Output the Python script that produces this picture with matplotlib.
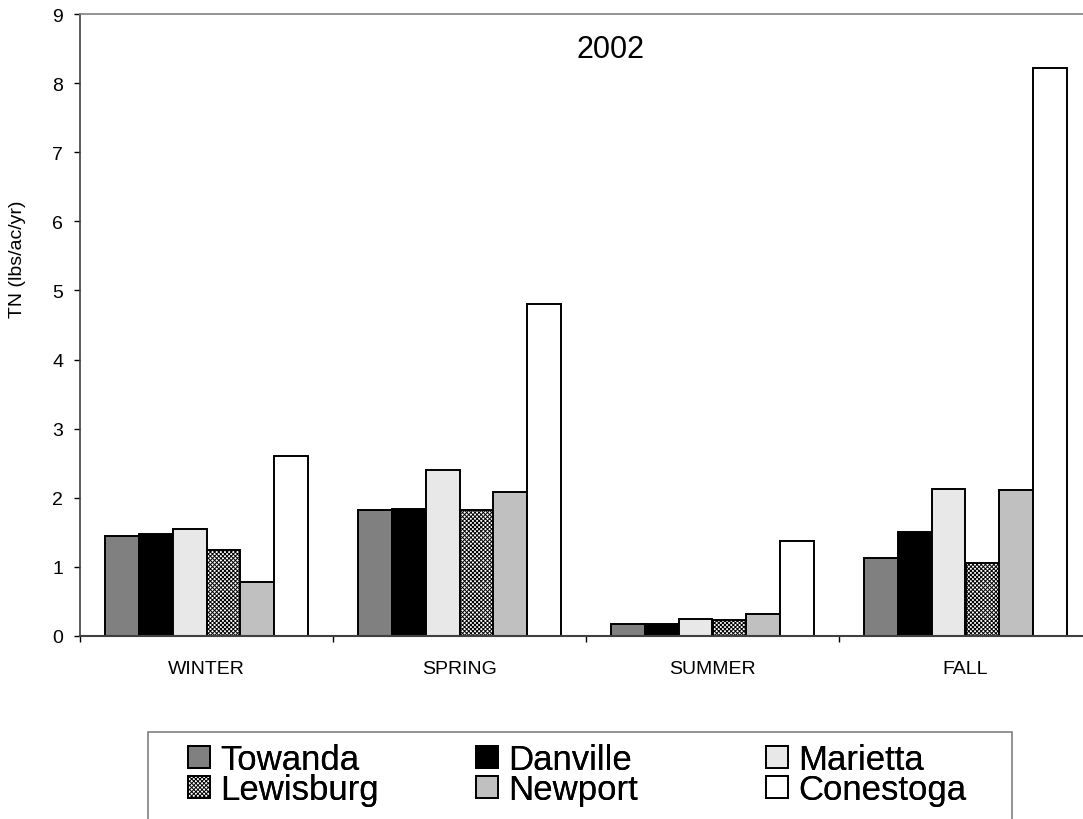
import numpy as np
import matplotlib
matplotlib.use("Agg")
import matplotlib.pyplot as plt
from matplotlib.patches import Rectangle

plt.rcParams['font.family'] = ['Liberation Sans', 'DejaVu Sans']
plt.rcParams['hatch.linewidth'] = 0.7

seasons = ['WINTER', 'SPRING', 'SUMMER', 'FALL']
sites = ['Towanda', 'Danville', 'Marietta', 'Lewisburg', 'Newport', 'Conestoga']

towanda = [1.45, 1.82, 0.18, 1.13]
danville = [1.47, 1.84, 0.17, 1.50]
marietta = [1.55, 2.40, 0.25, 2.13]
lewisburg = [1.25, 1.83, 0.23, 1.05]
newport = [0.78, 2.08, 0.32, 2.11]
conestoga = [2.60, 4.80, 1.38, 8.22]
series = [towanda, danville, marietta, lewisburg, newport, conestoga]

faces = ['#808080', '#000000', '#e8e8e8', '#ffffff', '#c0c0c0', '#ffffff']
hatches = [None, None, None, 'xxxxxxxx', None, None]

fig = plt.figure(figsize=(10.83, 8.2), dpi=100)
ax = fig.add_axes([80/1083, 183/820, 1012/1083, 622/820])

x = np.arange(len(seasons))
w = 0.134
handles = []
for j, vals in enumerate(series):
    b = ax.bar(x + (j - 2.5) * w, vals, w, color=faces[j], edgecolor='black',
               linewidth=1.4, hatch=hatches[j], label=sites[j], zorder=2)
    handles.append(b)

ax.set_xlim(-0.5, 3.5)
ax.set_ylim(0, 9)
ax.set_yticks(range(10))
ax.set_xticks(x)
ax.set_xticklabels(seasons)
ax.set_xticks(np.arange(-0.5, 4, 1), minor=True)
ax.tick_params(axis='x', which='major', length=0, pad=17, labelsize=14)
ax.tick_params(axis='x', which='minor', length=4.5, width=1, direction='out')
ax.tick_params(axis='y', length=4, width=1, direction='out', pad=8, labelsize=14)

ax.spines['right'].set_visible(False)
ax.spines['top'].set_color('#808080')
ax.spines['top'].set_linewidth(1.2)
ax.spines['left'].set_color('#404040')
ax.spines['left'].set_linewidth(1.2)
ax.spines['bottom'].set_color('#404040')
ax.spines['bottom'].set_linewidth(1.5)

ax.text(0.524, 0.943, '2002', transform=ax.transAxes, ha='center', va='center', fontsize=22)
fig.text(18/1083, (820-259)/820, 'TN (lbs/ac/yr)', rotation=90, ha='center', va='center', fontsize=14)

# legend frame drawn separately so the box can run off the bottom edge
fig.patches.append(Rectangle((148/1083, -10/820), (1012-148)/1083, (820-733+10)/820,
                             transform=fig.transFigure, fill=False,
                             edgecolor='#808080', linewidth=1.2))

# one legend per column, evenly spaced like the original
col_x = [188, 476, 766]
for c in range(3):
    idx = [c, c + 3]
    leg = fig.legend([handles[i] for i in idx], [sites[i] for i in idx],
                     loc='upper left', bbox_to_anchor=(col_x[c]/1083, (820-744)/820),
                     fontsize=25, frameon=False,
                     handlelength=0.62, handleheight=0.62, handletextpad=0.3,
                     labelspacing=-0.08, borderpad=0, borderaxespad=0)
    fig.add_artist(leg)

fig.savefig('out.png', dpi=100)
